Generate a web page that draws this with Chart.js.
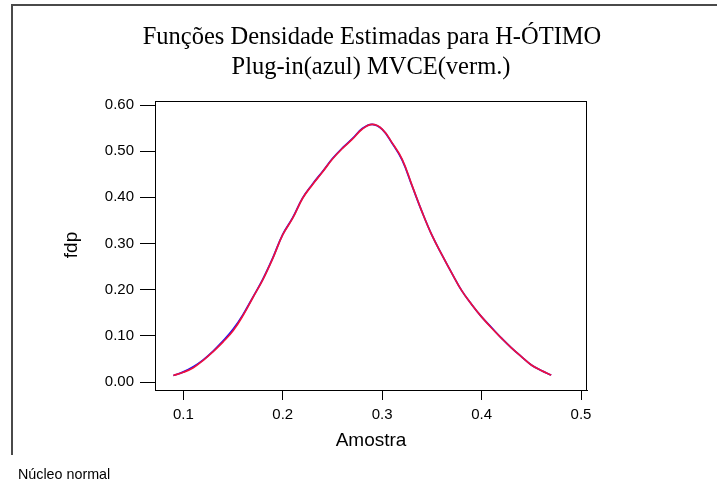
<!DOCTYPE html>
<html>
<head>
<meta charset="utf-8">
<script src="https://cdn.jsdelivr.net/npm/chart.js@4/dist/chart.umd.min.js"></script>
<style>
  html, body { margin: 0; padding: 0; background: #fff; }
  #wrap { width: 717px; height: 481px; }
</style>
</head>
<body>
<div id="wrap"><canvas id="densChart" width="717" height="481"></canvas></div>
<script>
// ─── Data ───
const amostra = [0.090, 0.100, 0.110, 0.120, 0.130, 0.140, 0.150, 0.160, 0.170, 0.180,
                 0.190, 0.200, 0.210, 0.220, 0.230, 0.240, 0.250, 0.260, 0.270, 0.280,
                 0.290, 0.300, 0.310, 0.320, 0.330, 0.340, 0.350, 0.360, 0.370, 0.380,
                 0.390, 0.400, 0.410, 0.420, 0.430, 0.440, 0.450, 0.460, 0.470];
// Plug-in (azul)
const fdpPlugin = [0.014, 0.022, 0.033, 0.048, 0.067, 0.089, 0.114, 0.146, 0.184, 0.223,
                   0.269, 0.320, 0.356, 0.399, 0.429, 0.456, 0.484, 0.507, 0.527, 0.549,
                   0.558, 0.547, 0.517, 0.481, 0.425, 0.369, 0.318, 0.276, 0.236, 0.198,
                   0.168, 0.141, 0.118, 0.095, 0.074, 0.055, 0.037, 0.025, 0.015];
// MVCE (verm.)
const fdpMVCE   = [0.014, 0.021, 0.031, 0.047, 0.066, 0.087, 0.111, 0.144, 0.183, 0.222,
                   0.268, 0.319, 0.355, 0.398, 0.428, 0.455, 0.483, 0.506, 0.526, 0.548,
                   0.558, 0.548, 0.518, 0.483, 0.426, 0.369, 0.318, 0.276, 0.236, 0.198,
                   0.168, 0.141, 0.117, 0.095, 0.074, 0.055, 0.037, 0.025, 0.015];
const xTicks = [0.1, 0.2, 0.3, 0.4, 0.5];
const yTicks = [0.0, 0.1, 0.2, 0.3, 0.4, 0.5, 0.6];

const titleLines = ["Funções Densidade Estimadas para H-ÓTIMO", "Plug-in(azul) MVCE(verm.)"];

const pts = ys => amostra.map((x, i) => ({ x: x, y: ys[i] }));
const SANS = "'Liberation Sans', Arial, sans-serif";

// ── Frame, box and texts ──
const decor = {
  id: "decor",
  beforeDraw(chart) {
    const c = chart.ctx;
    c.save();
    c.fillStyle = "#fff";
    c.fillRect(0, 0, chart.width, chart.height);
    c.strokeStyle = "#4a4a4a";
    c.lineWidth = 2;
    c.beginPath();
    c.moveTo(12, 455); c.lineTo(12, 5); c.lineTo(717, 5);
    c.stroke();
    c.restore();
  },
  afterDraw(chart) {
    const c = chart.ctx, a = chart.chartArea;
    c.save();
    c.strokeStyle = "#000";
    c.lineWidth = 1;
    c.strokeRect(a.left + 0.5, a.top + 0.5, a.right - a.left - 1, a.bottom - a.top);

    c.fillStyle = "#000";
    c.textAlign = "center";
    c.textBaseline = "middle";
    c.font = "24.5px 'Liberation Serif', 'Times New Roman', serif";
    c.fillText(titleLines[0], 372, 38);
    c.fillText(titleLines[1], 371, 68);

    c.font = "19px " + SANS;
    c.fillText("Amostra", 371, 441);
    c.translate(72, 245);
    c.rotate(-Math.PI / 2);
    c.fillText("fdp", 0, 0);
    c.restore();

    c.save();
    c.fillStyle = "#000";
    c.font = "14.3px " + SANS;
    c.textAlign = "left";
    c.textBaseline = "alphabetic";
    c.fillText("Núcleo normal", 18, 479);
    c.restore();
  }
};

// ── Chart ──
new Chart(document.getElementById("densChart"), {
  type: "line",
  data: {
    datasets: [
      { label: "MVCE",    data: pts(fdpMVCE),   borderColor: "#f0103c", borderWidth: 1.7, tension: 0.4, pointRadius: 0, fill: false },
      { label: "Plug-in", data: pts(fdpPlugin), borderColor: "#1010ff", borderWidth: 1.7, tension: 0.4, pointRadius: 0, fill: false }
    ]
  },
  options: {
    responsive: false,
    animation: false,
    layout: { padding: { left: 12, top: 101, right: 130, bottom: 0 } },
    plugins: { legend: { display: false }, tooltip: { enabled: false } },
    scales: {
      x: {
        type: "linear",
        min: 0.0715, max: 0.506,
        afterBuildTicks: s => { s.ticks = xTicks.map(v => ({ value: v })); },
        afterFit: s => { s.height = 91; },
        grid: { drawOnChartArea: false, tickLength: 10, color: "#000", tickColor: "#000" },
        border: { display: true, color: "#000", width: 1 },
        ticks: { color: "#000", padding: 6, maxRotation: 0, font: { family: SANS, size: 15 },
                 callback: v => v.toFixed(1) }
      },
      y: {
        type: "linear",
        min: -0.0173, max: 0.6087,
        afterBuildTicks: s => { s.ticks = yTicks.map(v => ({ value: v })); },
        afterFit: s => { s.width = 143; },
        grid: { drawOnChartArea: false, tickLength: 15, color: "#000", tickColor: "#000" },
        border: { display: true, color: "#000", width: 1 },
        ticks: { color: "#000", padding: 6, font: { family: SANS, size: 15 },
                 callback: v => v.toFixed(2) }
      }
    }
  },
  plugins: [decor]
});
</script>
</body>
</html>
